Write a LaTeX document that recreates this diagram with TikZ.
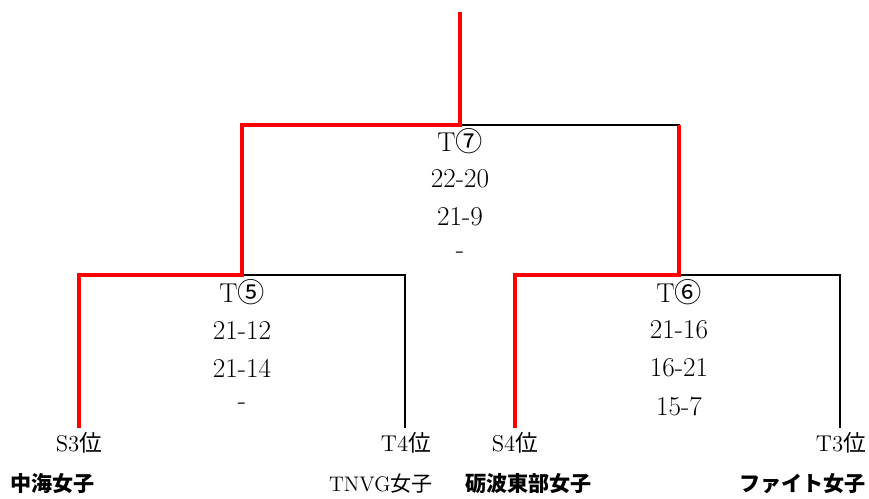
\documentclass[tikz,border=0pt]{standalone}
\usepackage{fontspec}
\newfontfamily\jp{Noto Sans CJK JP}

\begin{document}
\begin{tikzpicture}[x=0.02cm,y=-0.02cm,
        win/.style={line width=2.8pt,color=red,line join=miter},
        lose/.style={line width=0.8pt,color=black},
        score/.style={font=\fontsize{15.5}{18}\selectfont,inner sep=0pt},
        seed/.style={font=\fontsize{13}{15}\selectfont,inner sep=0pt},
        team/.style={font=\fontsize{12}{15}\selectfont\jp,inner sep=0pt},
        teambold/.style={font=\fontsize{12}{15}\selectfont\jp\bfseries,inner sep=0pt}]
        \useasboundingbox (0,0) rectangle (869,498);

        \def\dy{38}                                 % distance between score lines

        % Bottom ends of the bracket (one per team)
        \coordinate (s3) at (79,428);
        \coordinate (t4) at (405,428);
        \coordinate (s4) at (515,428);
        \coordinate (t3) at (840,428);

        % Joints of the bracket (one per match)
        \coordinate (m5) at (242,275);
        \coordinate (m6) at (679,275);
        \coordinate (m7) at (460,125);
        \coordinate (top) at (460,12);

        % Draw the losing branches first
        \draw[lose] (m5) -| (t4);
        \draw[lose] (m6) -| (t3);
        \draw[lose] (m7) -| (m6);

        % Draw the winners' path on top
        \draw[win] (s3) |- (m5) |- (m7) -- (top);
        \draw[win] (s4) |- (m6) -- (m6 |- m7);

        % Match names and set scores
        \node[score] (g7) at (460,141) {T{\jp ⑦}};
        \node[score] (g5) at (242,292) {T{\jp ⑤}};
        \node[score] (g6) at (679,292) {T{\jp ⑥}};
        \foreach \s [count=\i] in {22-20,21-9,-}
            \node[score] (g7-\i) at (460,{141+\dy*\i}) {\s};
        \foreach \s [count=\i] in {21-12,21-14,-}
            \node[score] (g5-\i) at (242,{292+\dy*\i}) {\s};
        \foreach \s [count=\i] in {21-16,16-21,15-7}
            \node[score] (g6-\i) at (679,{292+\dy*\i}) {\s};

        % Seeds below the bracket
        \node[seed] (s3lab) at (79,443) {S3{\jp 位}};
        \node[seed] (t4lab) at (406,443) {T4{\jp 位}};
        \node[seed] (s4lab) at (515,443) {S4{\jp 位}};
        \node[seed] (t3lab) at (841,443) {T3{\jp 位}};

        % Team names
        \node[teambold,anchor=west] (s3team) at (10,484) {中海女子};
        \node[team,anchor=east] (t4team) at (433,484) {{\rmfamily TNVG}女子};
        \node[teambold,anchor=west] (s4team) at (465,484) {砺波東部女子};
        \node[teambold,anchor=east] (t3team) at (866,484) {ファイト女子};
\end{tikzpicture}
\end{document}
